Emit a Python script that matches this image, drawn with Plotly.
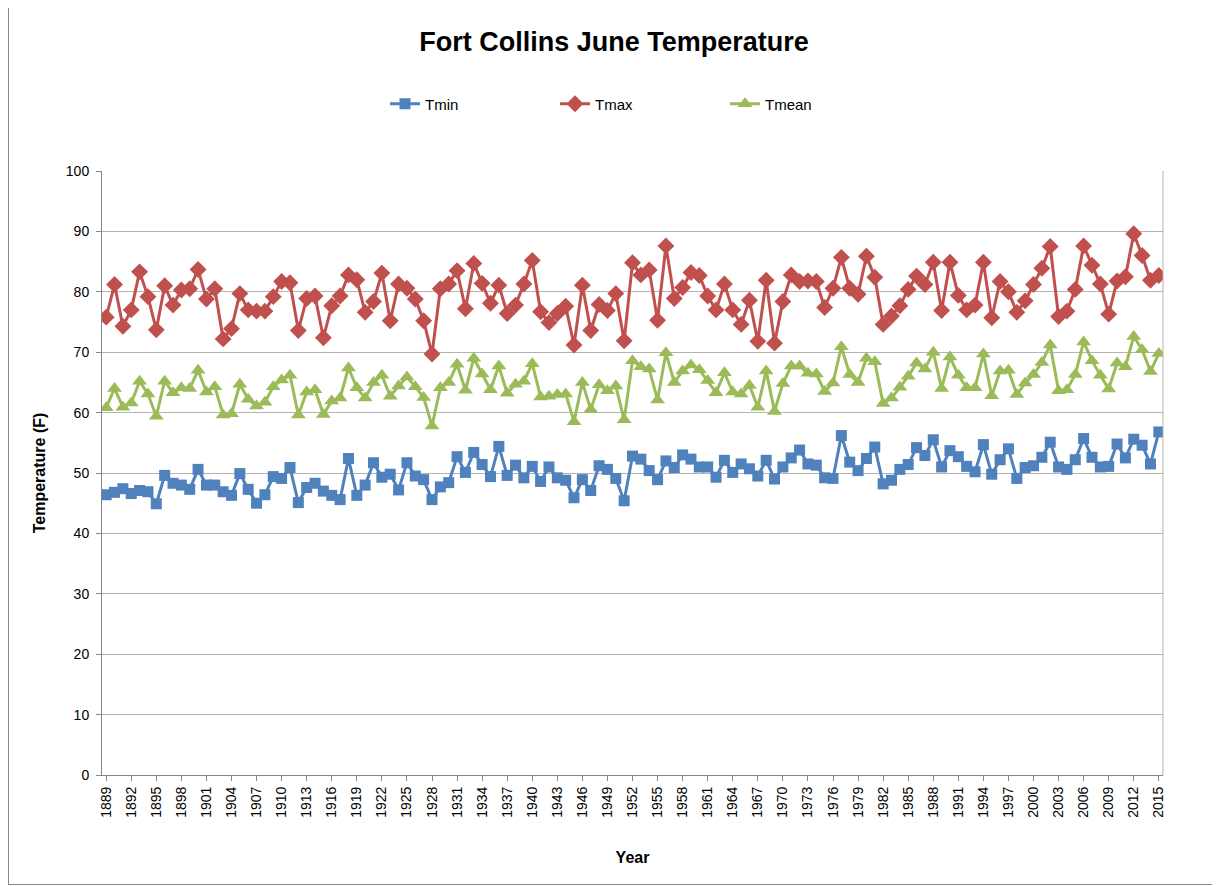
import plotly.graph_objects as go

years = list(range(1889, 2016))

tmax = [75.8, 81.2, 74.3, 77.0, 83.3, 79.2, 73.7, 81.0, 77.8, 80.3,
        80.5, 83.7, 78.8, 80.5, 72.2, 73.9, 79.7, 77.0, 76.8, 76.8,
        79.2, 81.7, 81.5, 73.6, 78.9, 79.3, 72.4, 77.7, 79.3, 82.8,
        82.0, 76.6, 78.4, 83.1, 75.2, 81.3, 80.6, 78.8, 75.2, 69.7,
        80.5, 81.3, 83.5, 77.2, 84.7, 81.4, 78.1, 81.1, 76.4, 77.8,
        81.3, 85.2, 76.7, 74.9, 76.4, 77.6, 71.2, 81.1, 73.6, 77.9,
        76.9, 79.7, 71.9, 84.8, 82.8, 83.6, 75.3, 87.6, 78.9, 80.7,
        83.2, 82.7, 79.3, 77.0, 81.3, 77.0, 74.6, 78.6, 71.8, 81.9,
        71.5, 78.4, 82.8, 81.7, 81.8, 81.7, 77.4, 80.6, 85.7, 80.6,
        79.6, 85.9, 82.4, 74.6, 76.0, 77.7, 80.4, 82.6, 81.2, 84.9,
        76.9, 84.9, 79.4, 77.0, 77.8, 84.9, 75.7, 81.7, 80.0, 76.6,
        78.5, 81.2, 83.9, 87.5, 75.9, 76.8, 80.4, 87.6, 84.4, 81.3,
        76.3, 81.8, 82.5, 89.6, 86.0, 81.9, 82.7]

tmean = [60.8, 64.0, 60.9, 61.6, 65.2, 63.1, 59.4, 65.2, 63.3, 64.1,
         64.0, 67.0, 63.4, 64.3, 59.6, 59.8, 64.7, 62.2, 61.1, 61.7,
         64.3, 65.4, 66.2, 59.6, 63.4, 63.8, 59.7, 61.9, 62.4, 67.4,
         64.1, 62.4, 65.0, 66.2, 62.7, 64.4, 65.9, 64.3, 62.5, 57.8,
         64.1, 65.0, 68.0, 63.7, 69.0, 66.4, 63.8, 67.7, 63.2, 64.7,
         65.2, 68.1, 62.6, 62.7, 63.0, 63.1, 58.5, 65.0, 60.5, 64.6,
         63.6, 64.4, 58.8, 68.6, 67.6, 67.2, 62.1, 69.9, 65.0, 66.9,
         67.9, 67.1, 65.3, 63.3, 66.6, 63.4, 63.1, 64.5, 60.9, 66.9,
         60.2, 64.8, 67.7, 67.7, 66.5, 66.4, 63.5, 64.9, 70.9, 66.3,
         65.0, 69.0, 68.4, 61.5, 62.4, 64.2, 66.0, 68.2, 67.2, 70.0,
         64.0, 69.2, 66.2, 64.1, 64.1, 69.7, 62.8, 66.9, 67.0, 63.0,
         64.9, 66.3, 68.3, 71.2, 63.6, 63.8, 66.3, 71.7, 68.6, 66.2,
         63.9, 68.2, 67.6, 72.6, 70.4, 66.8, 69.8]

tmin = [46.4, 46.8, 47.4, 46.6, 47.1, 46.9, 44.9, 49.6, 48.3, 48.0,
        47.3, 50.6, 48.0, 48.0, 46.9, 46.3, 49.9, 47.3, 45.0, 46.4,
        49.4, 49.1, 50.9, 45.1, 47.6, 48.3, 47.0, 46.3, 45.6, 52.4,
        46.3, 48.0, 51.7, 49.3, 49.8, 47.2, 51.7, 49.5, 48.9, 45.6,
        47.7, 48.4, 52.7, 50.1, 53.4, 51.4, 49.4, 54.4, 49.6, 51.3,
        49.2, 51.1, 48.6, 51.0, 49.2, 48.8, 45.9, 48.9, 47.1, 51.2,
        50.6, 49.1, 45.4, 52.8, 52.3, 50.4, 48.9, 52.0, 50.9, 53.0,
        52.3, 51.0, 51.0, 49.3, 52.1, 50.1, 51.5, 50.7, 49.5, 52.1,
        49.0, 51.0, 52.5, 53.8, 51.5, 51.3, 49.2, 49.1, 56.2, 51.8,
        50.4, 52.4, 54.3, 48.2, 48.8, 50.6, 51.4, 54.2, 52.9, 55.5,
        51.0, 53.7, 52.7, 51.1, 50.2, 54.7, 49.8, 52.2, 54.0, 49.1,
        50.9, 51.2, 52.6, 55.1, 51.0, 50.6, 52.2, 55.7, 52.6, 51.0,
        51.1, 54.8, 52.5, 55.6, 54.6, 51.5, 56.8]

tick_years = list(range(1889, 2016, 3))
tick_labels = [str(y) for y in tick_years]

# page has an 8px body margin; figure coordinates are page - 8
OFF = 8
W, H = 1212, 878
L, R, T, B = 102 - OFF, 1163 - OFF, 171 - OFF, 775 - OFF

fig = go.Figure()
fig.add_trace(go.Scatter(x=years, y=tmin, name="Tmin", mode="lines+markers",
                         line=dict(color="#4F81BD", width=3),
                         marker=dict(symbol="square", size=11, color="#4F81BD")))
fig.add_trace(go.Scatter(x=years, y=tmax, name="Tmax", mode="lines+markers",
                         line=dict(color="#C0504D", width=3),
                         marker=dict(symbol="diamond", size=13, color="#C0504D")))
fig.add_trace(go.Scatter(x=years, y=tmean, name="Tmean", mode="lines+markers",
                         line=dict(color="#9BBB59", width=3),
                         marker=dict(symbol="triangle-up", size=13, color="#9BBB59")))

fig.update_layout(
    width=W, height=H,
    margin=dict(l=L, r=W - R, t=T, b=H - B, autoexpand=False),
    paper_bgcolor="white", plot_bgcolor="white",
    font=dict(family="Liberation Sans, Arial, sans-serif", size=13, color="#000000"),
    title=dict(text="<b>Fort Collins June Temperature</b>", x=0.5, xanchor="center",
               y=1 - (42 - OFF) / H, yanchor="middle",
               font=dict(size=27, family="Liberation Sans, Arial, sans-serif", color="#000000")),
    legend=dict(orientation="h", x=(385 - OFF - L) / (R - L), xanchor="left",
                y=(B - (104 - OFF)) / (B - T), yanchor="middle",
                entrywidth=125, entrywidthmode="pixels",
                font=dict(size=15), bgcolor="rgba(0,0,0,0)"),
    showlegend=True,
)

fig.update_xaxes(
    range=[1888.5, 2015.5], tickmode="array", tickvals=tick_years, ticktext=tick_labels,
    tickangle=-90, showgrid=False, showline=True, linecolor="#868686", linewidth=1,
    ticks="outside", ticklen=5, tickcolor="#868686", zeroline=False,
    tickfont=dict(size=14),
    title=dict(text="<b>Year</b>", font=dict(size=16), standoff=35),
)
fig.update_yaxes(
    range=[0, 100], dtick=10, showgrid=True, gridcolor="#B3B3B3", gridwidth=1,
    showline=True, linecolor="#868686", linewidth=1, mirror=False,
    ticks="outside", ticklen=5, tickcolor="#868686", zeroline=False,
    tickfont=dict(size=14), ticklabelstandoff=4,
    title=dict(text="<b>Temperature (F)</b>", font=dict(size=16), standoff=16),
)

# right border of plot area
fig.add_shape(type="line", xref="paper", yref="paper", x0=1, x1=1, y0=0, y1=1,
              line=dict(color="#B3B3B3", width=1))
# chart area border (left and bottom edges visible in reference)
fig.add_shape(type="line", xref="paper", yref="paper",
              x0=(0.5 - L) / (R - L), x1=(0.5 - L) / (R - L),
              y0=(B - (H - 1)) / (B - T), y1=(B - 0) / (B - T),
              line=dict(color="#868686", width=1))
fig.add_shape(type="line", xref="paper", yref="paper",
              x0=(0 - L) / (R - L), x1=(W - L) / (R - L),
              y0=(B - (H - 1.5)) / (B - T), y1=(B - (H - 1.5)) / (B - T),
              line=dict(color="#868686", width=1))

fig.write_html("out.html")
